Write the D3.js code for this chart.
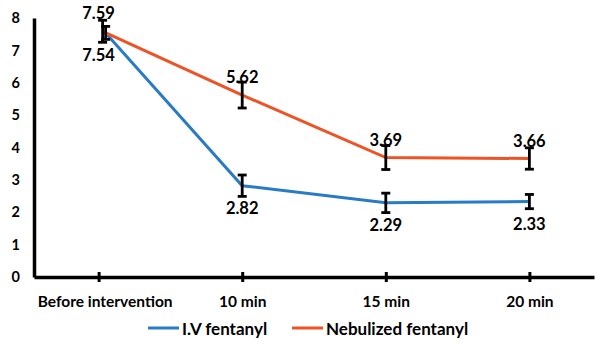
<!DOCTYPE html>
<html><head><meta charset="utf-8">
<script src="https://cdn.jsdelivr.net/npm/d3@7"></script>
<style>body{margin:0;background:#fff}text{font-family:Lato,"Open Sans",sans-serif;font-weight:bold}</style>
</head><body><svg id="c" width="600" height="351"></svg>
<script>
const categories = ["Before intervention","10 min","15 min","20 min"];
const ivValues = [7.54, 2.82, 2.29, 2.33];
const ivErrors = [0.2, 0.33, 0.3, 0.22];
const nebValues = [7.59, 5.62, 3.69, 3.66];
const nebErrors = [0.34, 0.4, 0.37, 0.33];
const yTicks = [0,1,2,3,4,5,6,7,8];
const seriesNames = ["I.V fentanyl","Nebulized fentanyl"];
const colors = ["#2a7bc6","#ee5325"];

const svg = d3.select("#c");
const x = d3.scalePoint().domain(categories).range([34,594]).padding(0.45);
const y = d3.scaleLinear().domain([0,8]).range([277,18]);
const dx = [7,0,0,0], dxN = [4,0,0,0];

// axes
const yAxis = svg.append("g").attr("transform","translate(34,0)")
  .call(d3.axisLeft(y).tickValues(yTicks).tickSize(0).tickPadding(10));
yAxis.select(".domain").attr("stroke","#000").attr("stroke-width",3.5);
yAxis.selectAll("text").attr("font-size",14.5).attr("fill","#000").attr("dx",-4);
const xAxis = svg.append("g").attr("transform","translate(0,277)")
  .call(d3.axisBottom(x).tickSizeOuter(0).tickSizeInner(5).tickPadding(14));
xAxis.select(".domain").attr("stroke","#000").attr("stroke-width",3.5);
xAxis.selectAll(".tick line").attr("stroke","#000").attr("stroke-width",3).attr("y1",-5);
xAxis.selectAll("text").attr("font-size",15.5).attr("fill","#000")
  .attr("dx",(d,i)=>i===0?6:0);

const series = [
  {vals: ivValues, errs: ivErrors, color: colors[0], off: dx, lab: 22},
  {vals: nebValues, errs: nebErrors, color: colors[1], off: dxN, lab: -18}
];
series.forEach(s=>{
  svg.append("path").datum(s.vals)
    .attr("d", d3.line().x((d,i)=>x(categories[i])+s.off[i]).y(d=>y(d)))
    .attr("fill","none").attr("stroke",s.color).attr("stroke-width",3);
});
series.forEach(s=>{
  const g = svg.append("g");
  s.vals.forEach((v,i)=>{
    const cx = x(categories[i])+s.off[i];
    const t = y(v+s.errs[i]), b = y(v-s.errs[i]);
    g.append("line").attr("x1",cx).attr("x2",cx).attr("y1",t).attr("y2",b).attr("stroke","#000").attr("stroke-width",2.8);
    [t,b].forEach(yy=>g.append("line").attr("x1",cx-4.5).attr("x2",cx+4.5).attr("y1",yy).attr("y2",yy).attr("stroke","#000").attr("stroke-width",2.8));
    g.append("text").attr("x",x(categories[i])).attr("y",y(v)+s.lab)
      .attr("text-anchor","middle").attr("dominant-baseline","central")
      .attr("font-size",16.5).attr("fill","#000").text(v.toFixed(2));
  });
});

// legend
const leg = [{x:148},{x:292}];
seriesNames.forEach((n,i)=>{
  const lx = leg[i].x;
  svg.append("line").attr("x1",lx).attr("x2",lx+31).attr("y1",328).attr("y2",328)
    .attr("stroke",colors[i]).attr("stroke-width",3);
  svg.append("text").attr("x",lx+34).attr("y",328).attr("dominant-baseline","central")
    .attr("font-size",17).attr("fill","#000").text(n);
});
</script></body></html>
